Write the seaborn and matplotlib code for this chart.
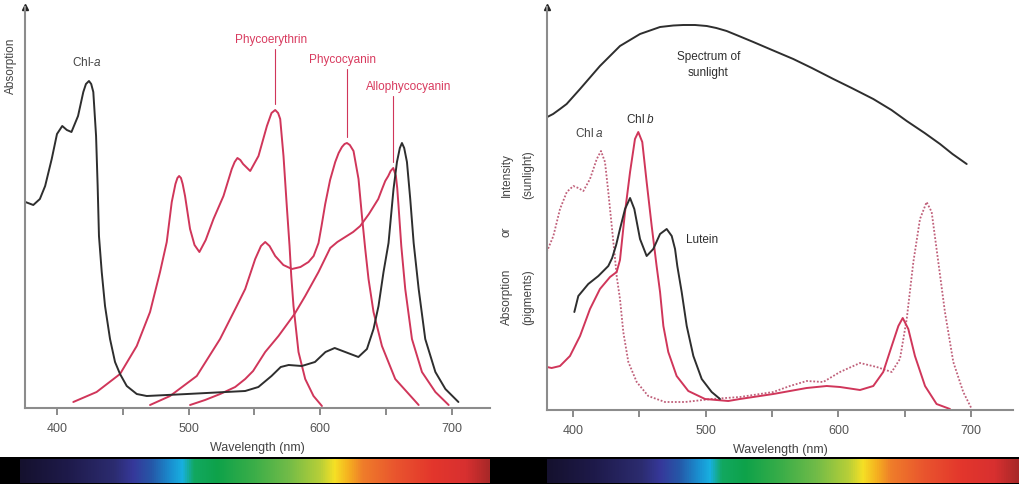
import numpy as np
import matplotlib
matplotlib.use("Agg")
import matplotlib.pyplot as plt
from matplotlib.colors import LinearSegmentedColormap
import seaborn as sns

# ---- left panel: chlorophyll a and phycobilin absorption (arbitrary units)
chl_a_nm = [376, 382, 387, 391, 396, 400, 404, 407.5, 411, 416, 420, 422, 424.3, 426,
            427.6, 429.7, 430.9, 431.9, 434, 436.5, 440.3, 444.1, 447.9, 453, 460.6,
            468.2, 499, 543, 553, 563, 570, 576, 586, 596, 604, 611, 619, 629, 635.5,
            640.5, 644.3, 648.1, 651.9, 655.7, 658.3, 660.5, 662.1, 663.8, 665.9, 668.4,
            671, 674.8, 679.8, 687.5, 695.1, 705]
chl_a_abs = [206, 203, 209, 222, 249, 274, 282, 278, 276, 292, 316, 324, 327, 324,
             316, 272, 222, 172, 136, 102, 69, 46, 34, 22, 14,
             12, 14, 17, 21, 32, 41, 43, 42, 46, 56, 60, 56, 51, 59,
             79, 102, 136, 165, 219, 246, 260, 265, 260, 246, 209,
             165, 119, 69, 36, 19, 6]

phycoerythrin_nm = [412.4, 430.1, 447.9, 460.6, 470.7, 478.3, 483.4, 487.2, 490, 491.5,
                    492.8, 494.2, 495.5, 497.3, 501.1, 504.5, 508.2, 513, 518.9, 526.5,
                    532.8, 535, 537.1, 539.3, 541.4, 546.8, 553.1, 559.5, 563, 565.8,
                    568, 569.6, 572.1, 574.6, 576.7, 578, 579.7, 583.5, 588.6, 594.9,
                    601.3]
phycoerythrin_abs = [6, 16, 34, 62, 96, 136, 166, 206, 224, 230,
                     232, 230, 224, 212, 179, 163, 156, 168, 189, 212,
                     239, 246, 250, 248, 244, 237, 252, 282, 295, 298,
                     295, 289, 252, 202, 162, 132, 102, 56, 29, 12,
                     2]

phycocyanin_nm = [470.7, 485.9, 506.2, 523.9, 536.6, 543, 550.6, 555, 558.2, 561.5,
                  565.8, 572, 578.5, 585, 591.1, 595, 598.7, 601, 603.8, 607.5,
                  611.4, 614, 616.5, 618.5, 620.3, 622.5, 625.3, 629.1, 631.7, 634.2,
                  636.7, 640.5, 646.9, 657, 674.8]
phycocyanin_abs = [3, 12, 32, 69, 102, 119, 149, 162, 166, 162,
                   152, 143, 139, 141, 146, 152, 165, 182, 204, 228,
                   246, 255, 261, 264, 265, 263, 257, 229, 192, 159,
                   129, 96, 62, 29, 3]

allophycocyanin_nm = [501.1, 512.5, 524, 535.4, 543, 549, 558.2, 568.3, 580.5, 588.6,
                      598.7, 607.6, 613, 619, 625, 630.4, 637, 644.1, 647, 649.4,
                      651.7, 653.5, 655.5, 657.5, 658.5, 659.5, 661.6, 664.6, 669.7,
                      677.3, 687.5, 697.6]
allophycocyanin_abs = [3, 8, 14, 21, 29, 37, 56, 72, 94, 112,
                       136, 160, 166, 171, 176, 182, 194, 209, 219, 227,
                       232, 237, 240, 232, 220, 202, 162, 119, 69,
                       36, 16, 3]

# ---- right panel: sunlight intensity and pigment absorption
sun_nm = [380.6, 385, 390.2, 395.2, 405.3, 420.3, 435.4, 450.5, 465.6, 475.6,
          483.1, 492, 500.8, 508, 515.8, 525, 535.9, 550, 566, 580, 596.2, 610,
          626.3, 640, 651.5, 665, 676.6, 686, 696.7]
sun_int = [293, 296, 301, 306, 321, 344, 364, 376, 383, 384.5,
           385, 385, 384, 382, 379, 374, 368, 360, 351, 342, 331, 322,
           311, 300, 289, 277, 266, 256, 246]

chl_a_pig_nm = [380.2, 385.2, 390.2, 395.3, 400.2, 404, 407.8, 412.8, 417.9, 421.1,
                424.1, 426.6, 429.2, 431.7, 432.9, 435.4, 437.9, 441.7, 448, 456.7,
                469.3, 484.4, 504.5, 525.8, 550.9, 563.5, 576.1, 588.6, 601.2, 616.3,
                628.9, 640.2, 646.4, 651.5, 656.5, 661.5, 666.5, 670.3, 675.3, 680.3,
                686.6, 694.1, 700.5]
chl_a_pig_abs = [158, 174, 201, 218, 224, 222, 219, 231, 251, 259,
                 248, 218, 184, 151, 134, 111, 78, 48, 28, 14,
                 8, 8, 11, 13, 18, 24, 29, 28, 38, 47,
                 43, 38, 51, 91, 148, 191, 208, 198, 148, 98,
                 48, 18, 1]

chl_b_nm = [380.4, 383.9, 390.2, 397.7, 405.3, 412.8, 420.3, 427.9, 432.9, 435.4,
            439.2, 443, 446.7, 449.2, 452.2, 455.5, 459.3, 463, 465.6, 468.1,
            471.8, 478.1, 486.9, 499.5, 517, 525.8, 550.9, 576.1, 591.2, 601.2,
            616.3, 626.3, 633.8, 640.2, 645.2, 648.5, 652.7, 657.7, 665.3, 674,
            684.1]
chl_b_abs = [43, 42, 44, 54, 74, 101, 121, 133, 138, 150,
             198, 238, 271, 278, 268, 228, 184, 144, 118, 84,
             58, 34, 19, 11, 9, 11, 16, 22, 24, 23,
             20, 24, 38, 64, 84, 92, 81, 54, 24, 6,
             1]

lutein_nm = [401, 404, 411.5, 419.1, 426.6, 429.5, 432.5, 435.4, 439.2, 443,
             446.2, 450.5, 455.5, 460.5, 465.6, 470.6, 474.4, 476.9, 478.6, 481.9,
             485.7, 490.7, 497, 504.5, 510.8]
lutein_abs = [98, 114, 126, 134, 144, 152, 165, 181, 201, 212,
              201, 171, 154, 161, 176, 181, 174, 161, 144, 118,
              84, 54, 31, 18, 11]

tick_nm = [400, 450, 500, 550, 600, 650, 700]
tick_labels = ["400", "", "500", "", "600", "", "700"]

# visible spectrum strip under each panel
spectrum_stops = [0.0, 0.10, 0.20, 0.24, 0.28, 0.32, 0.345, 0.37, 0.42, 0.50,
                  0.57, 0.64, 0.67, 0.70, 0.73, 0.80, 0.88, 0.95, 1.0]
spectrum_colors = ["#15112e", "#1e1a4a", "#2c2c70", "#36389a", "#2558a8", "#1a8fd0",
                   "#18b0e0", "#12a860", "#0ea24a", "#3cae48", "#70bb48", "#b8cf38",
                   "#f5e025", "#f5b020", "#ef7d2a", "#e9552e", "#e3362c", "#d83030",
                   "#a82828"]

RED = "#d0365a"
RED_TEXT = "#d83a5e"
DARK = "#2e2e2e"
TEXT = "#444444"
AXIS = "#8c8c8c"

sns.set_style("white")
plt.rcParams.update({
    "font.family": ["Liberation Sans", "DejaVu Sans"],
    "mathtext.fontset": "custom",
    "mathtext.rm": "Liberation Sans",
    "mathtext.it": "Liberation Sans:italic",
})


def curve(ax, nm, val, color, lw=1.4, **kw):
    sns.lineplot(x=nm, y=val, ax=ax, color=color, lw=lw, estimator=None,
                 sort=False, solid_joinstyle="round", **kw)


def style_axis(ax, xlim, ylim):
    ax.set_xlim(*xlim)
    ax.set_ylim(*ylim)
    for s in ("top", "right"):
        ax.spines[s].set_visible(False)
    for s in ("left", "bottom"):
        ax.spines[s].set_color(AXIS)
        ax.spines[s].set_linewidth(1.5)
    ax.set_yticks([])
    ax.set_ylabel("")
    ax.set_xticks(tick_nm)
    ax.set_xticklabels(tick_labels)
    ax.tick_params(axis="x", bottom=True, direction="out", length=5, width=1.2,
                   color="#777777", labelsize=9, labelcolor="#555555", pad=5)
    ax.set_xlabel("Wavelength (nm)", fontsize=9, color=TEXT, labelpad=5)
    ax.plot(0, 1, "^", transform=ax.transAxes, clip_on=False, color="#222222", ms=4)


def peak_label(ax, nm, val, label, x_txt, y_txt):
    i = int(np.argmax(val))
    ax.plot([nm[i], nm[i]], [val[i] + 6, y_txt - 10], color=RED, lw=0.8)
    ax.text(x_txt, y_txt, label, color=RED_TEXT, fontsize=8.5, ha="center", va="center")


fig = plt.figure(figsize=(10.2, 4.85), dpi=100)
W, H = 1020, 485

# left panel
ax1 = fig.add_axes([25 / W, (H - 409) / H, 465 / W, 401 / H])
curve(ax1, phycoerythrin_nm, phycoerythrin_abs, RED)
curve(ax1, phycocyanin_nm, phycocyanin_abs, RED)
curve(ax1, allophycocyanin_nm, allophycocyanin_abs, RED)
curve(ax1, chl_a_nm, chl_a_abs, DARK)
style_axis(ax1, (375.7, 729), (0, 401))
peak_label(ax1, phycoerythrin_nm, phycoerythrin_abs, "Phycoerythrin", 562.5, 369)
peak_label(ax1, phycocyanin_nm, phycocyanin_abs, "Phycocyanin", 616.7, 349)
peak_label(ax1, allophycocyanin_nm, allophycocyanin_abs, "Allophycocyanin", 667, 322)
ax1.text(423, 347, "Chl-$a$", color=TEXT, fontsize=8.5, ha="center", va="center")
fig.text(11 / W, 1 - 66 / H, "Absorption", rotation=90, fontsize=8.5, color=TEXT,
         ha="center", va="center")

# right panel
ax2 = fig.add_axes([547 / W, (H - 411) / H, 466 / W, 403 / H])
curve(ax2, sun_nm, sun_int, DARK)
curve(ax2, chl_a_pig_nm, chl_a_pig_abs, "#c0607a", lw=1.3, linestyle=(0, (1, 1)))
curve(ax2, chl_b_nm, chl_b_abs, RED)
curve(ax2, lutein_nm, lutein_abs, DARK)
style_axis(ax2, (380.4, 731.6), (0, 403))
ax2.text(502, 346, "Spectrum of\nsunlight", color=DARK, fontsize=8.5, ha="center",
         va="center", linespacing=1.5)
ax2.text(412.8, 277, "Chl $a$", color=TEXT, fontsize=8.5, ha="center", va="center")
ax2.text(451.2, 291, "Chl $b$", color=DARK, fontsize=8.5, ha="center", va="center")
ax2.text(497, 171, "Lutein", color=DARK, fontsize=8.5, ha="center", va="center")
for x, y, s in [(507, 175, "Intensity"), (528, 175, "(sunlight)"), (507, 232, "or"),
                (507, 297, "Absorption"), (528, 297, "(pigments)")]:
    fig.text(x / W, 1 - y / H, s, rotation=90, fontsize=8.5, color=TEXT,
             ha="center", va="center")

# black strip with the spectrum bars
strip = fig.add_axes([0, 0, 1, 27 / H])
strip.set_facecolor("black")
strip.set_xticks([])
strip.set_yticks([])
for s in strip.spines.values():
    s.set_visible(False)

cmap = LinearSegmentedColormap.from_list("spectrum", list(zip(spectrum_stops, spectrum_colors)))
gradient = np.linspace(0, 1, 512)[None, :]
for x0, w in [(20, 470), (547, 472)]:
    bar = fig.add_axes([x0 / W, 1 / H, w / W, 24 / H])
    bar.imshow(gradient, cmap=cmap, aspect="auto")
    bar.set_axis_off()

fig.savefig("out.png", dpi=100)
